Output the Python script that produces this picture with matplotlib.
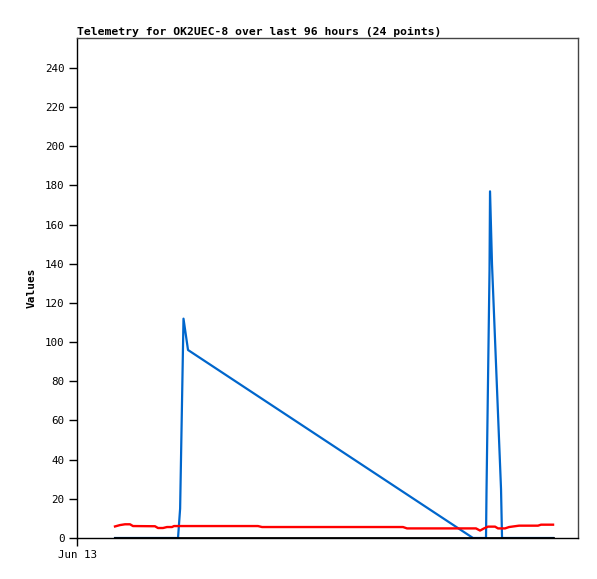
import matplotlib
matplotlib.use("Agg")
import matplotlib.pyplot as plt

# hours since Jun 13 00:00
blue_x = [8.33, 22.14, 22.6, 23.34, 24.33, 86.79, 89.64, 89.75, 90.41, 90.52, 90.95, 92.93, 93.15, 104.33]
blue_y = [0, 0, 15, 112, 96, 0, 0, 24, 137, 177, 140, 25, 0, 0]

red_x = [8.33, 9.42, 10.52, 11.62, 12.27, 17.09, 17.75, 18.85, 19.72, 20.82, 21.26,
         39.67, 40.55, 71.45, 72.33, 87.45, 88.33, 89.2, 90.08, 91.62, 92.27, 93.81,
         94.69, 96.88, 101.04, 101.7, 104.33]
red_y = [5.9, 6.6, 7.0, 7.0, 6.1, 6.0, 5.1, 5.1, 5.6, 5.6, 6.1,
         6.1, 5.6, 5.6, 4.9, 4.9, 3.8, 4.9, 5.8, 5.8, 4.9, 4.9,
         5.6, 6.3, 6.3, 6.8, 6.8]

black_x = [8.33, 104.33]
black_y = [0, 0]

yticks = [0, 20, 40, 60, 80, 100, 120, 140, 160, 180, 200, 220, 240]
xtick_pos = [0]
xtick_labels = ["Jun 13"]

fig = plt.figure(figsize=(5.97, 5.79), dpi=100)
ax = fig.add_axes([77/597, 41/579, 501/597, 500/579])

ax.plot(blue_x, blue_y, color="#0066cc", lw=1.6, zorder=2)
ax.plot(red_x, red_y, color="#ff0000", lw=1.7, zorder=3)
ax.plot(black_x, black_y, color="#000000", lw=2.0, zorder=4)

ax.set_xlim(0, 109.8)
ax.set_ylim(0, 255.3)
ax.set_yticks(yticks)
ax.set_yticklabels([str(v) for v in yticks], fontfamily="DejaVu Sans Mono", fontsize=7.8)
ax.set_xticks(xtick_pos)
ax.set_xticklabels(xtick_labels, fontfamily="DejaVu Sans Mono", fontsize=7.8)
ax.tick_params(axis="both", direction="out", length=6, width=1, color="black", pad=3)

for s in ax.spines.values():
    s.set_linewidth(1)
    s.set_color("black")
ax.spines["right"].set_color("#444444")
ax.spines["top"].set_color("#444444")

ax.set_ylabel("Values", fontfamily="DejaVu Sans Mono", fontweight="bold", fontsize=8, labelpad=6)
ax.set_title("Telemetry for OK2UEC-8 over last 96 hours (24 points)",
             fontfamily="DejaVu Sans Mono", fontweight="bold", fontsize=8.2, loc="left", pad=2)

fig.savefig("out.png", dpi=100)
